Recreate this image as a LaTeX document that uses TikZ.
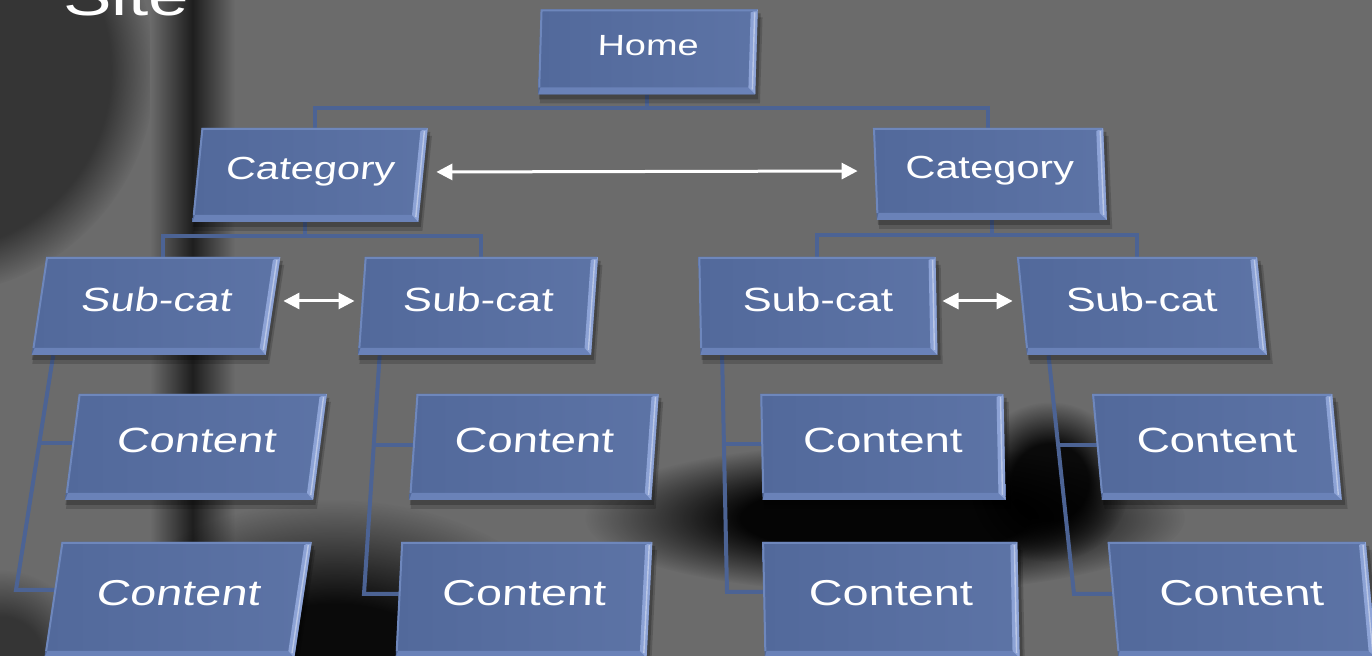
\documentclass[tikz,border=0pt]{standalone}
\usepackage{fontspec}
\usepackage{graphicx}
\setmainfont{Liberation Sans}
\usetikzlibrary{calc,fadings,arrows.meta}

\definecolor{bggray}{HTML}{6B6B6B}
\definecolor{poledark}{HTML}{1E1E1E}
\definecolor{boxface}{HTML}{52699B}
\definecolor{boxside}{HTML}{8DA3D6}
\definecolor{boxfoot}{HTML}{6A82B8}
\definecolor{boxrim}{HTML}{6E87BC}
\definecolor{linkblue}{HTML}{4C6394}

\pgfdeclarelayer{back}
\pgfdeclarelayer{links}
\pgfsetlayers{back,links,main}

% opaque core, long soft rim
\pgfdeclareradialshading{softedge}{\pgfpointorigin}{color(0bp)=(white); color(12bp)=(white); color(25bp)=(black); color(50bp)=(black)}
\pgfdeclarefading{soft blob}{\pgfuseshading{softedge}}

\tikzset{
  boxanchor/.style={inner sep=0pt, transform shape},
  boxlabel/.style={text=white, inner sep=0pt, text depth=0pt, transform shape},
  link/.style={draw=linkblue, line width=2pt},
  twoway/.style={white, line width=1.5pt, {Triangle[length=8pt,width=8pt]}-{Triangle[length=8pt,width=8pt]}},
  blob/.style={black, path fading=circle with fuzzy edge 20 percent},
  softblob/.style={black, path fading=soft blob},
}

% bevelled box: name, x, y, width, height, slant, font size, label
\newcommand\sitebox[8]{%
  \pgfmathsetmacro\boxhw{#4/2}%
  \pgfmathsetmacro\boxhh{#5/2}%
  \begin{scope}[shift={(#2,#3)}, xslant=#6]
    % soft shadow underneath
    \fill[black, opacity=.16] (-\boxhw+2,-\boxhh+8) rectangle (\boxhw+5,\boxhh+9);
    \fill[black, opacity=.22] (-\boxhw+1,-\boxhh+4) rectangle (\boxhw+3,\boxhh+5);
    % face and bevels
    \shade[left color=boxface, right color=boxface!82!boxside] (-\boxhw,-\boxhh) rectangle (\boxhw,\boxhh);
    \fill[boxfoot] (-\boxhw,\boxhh) -- (\boxhw,\boxhh) -- (\boxhw-7,\boxhh-7) -- (-\boxhw+2,\boxhh-7) -- cycle;
    \fill[boxside] (\boxhw,-\boxhh) -- (\boxhw,\boxhh) -- (\boxhw-7,\boxhh-7) -- (\boxhw-7,-\boxhh+3) -- cycle;
    \draw[boxrim, line width=1pt] (-\boxhw+.8,\boxhh-7) -- (-\boxhw+.8,-\boxhh+.8) -- (\boxhw-1,-\boxhh+.8);
    \draw[white, opacity=.4, line width=.7pt] (\boxhw-3,-\boxhh+3) -- (\boxhw-3,\boxhh-5);
    \node[boxanchor, minimum width=#4*.5pt, minimum height=#5*.5pt] (#1) at (0,0) {};
    \node[boxlabel, font=\fontsize{#7}{#7}\selectfont, text height=#7pt*.72] at (0,-7) {\scalebox{1.3}[1]{#8}};
  \end{scope}}

\begin{document}
\begin{tikzpicture}[x=0.5pt, y=-0.5pt]
  \useasboundingbox (0,0) rectangle (1372,656);
  \clip (0,0) rectangle (1372,656);

  % backdrop
  \begin{pgfonlayer}{back}
    \fill[bggray] (0,0) rectangle (1372,656);
    \fill[blob, opacity=.5] (-70,70) circle (225);
    \shade[left color=bggray, right color=bggray, middle color=poledark] (150,-5) rectangle (235,548);
    \fill[softblob, opacity=.95] (885,518) ellipse [x radius=300, y radius=75];
    \fill[softblob, opacity=.9] (1050,482) ellipse [x radius=80, y radius=80];
    \fill[softblob, opacity=.9] (335,700) ellipse [x radius=270, y radius=200];
    \fill[softblob, opacity=.5] (0,660) circle (90);
  \end{pgfonlayer}

  \node[anchor=base west, text=white, inner sep=0pt, font=\fontsize{28}{28}\selectfont] (title) at (63,16) {\scalebox{1.3}[1]{Site}};

  \sitebox{home}{648}{52}{217}{85}{0.03}{14.6}{Home}
  \sitebox{catl}{310}{175}{226}{94}{0.10}{16}{Category}
  \sitebox{catr}{990}{174}{230}{92}{-0.04}{16}{Category}

  \sitebox{sub1}{156}{306}{234}{98}{0.15}{16.8}{Sub-cat}
  \sitebox{sub2}{478}{306}{233}{98}{0.07}{16.8}{Sub-cat}
  \sitebox{sub3}{818}{306}{237}{98}{-0.02}{16.8}{Sub-cat}
  \sitebox{sub4}{1142}{306}{240}{98}{-0.10}{16.8}{Sub-cat}

  \sitebox{con1}{196}{447}{248}{106}{0.13}{17.5}{Content}
  \sitebox{con2}{534}{447}{242}{106}{0.07}{17.5}{Content}
  \sitebox{con3}{883}{447}{243}{106}{-0.02}{17.5}{Content}
  \sitebox{con4}{1217}{447}{240}{106}{-0.09}{17.5}{Content}

  \sitebox{con5}{178}{600}{250}{116}{0.15}{18}{Content}
  \sitebox{con6}{524}{600}{251}{116}{0.05}{18}{Content}
  \sitebox{con7}{891}{600}{255}{116}{-0.02}{18}{Content}
  \sitebox{con8}{1242}{600}{258}{116}{-0.09}{18}{Content}

  \begin{pgfonlayer}{links}
    % tree levels
    \draw[link] (home.south) -- ++(0,13) -| (catl.north);
    \draw[link] (home.south) -- ++(0,13) -| (catr.north);
    \draw[link] (catl.south) -- ++(0,14) -| (sub1.north);
    \draw[link] (catl.south) -- ++(0,14) -| (sub2.north);
    \draw[link] (catr.south) -- ++(0,15) -| (sub3.north);
    \draw[link] (catr.south) -- ++(0,15) -| (sub4.north);
    % rails from each sub-cat to its two content boxes
    \coordinate (rail1) at (16,590);
    \coordinate (rail2) at (364,594);
    \coordinate (rail3) at (727,592);
    \coordinate (rail4) at (1074,594);
    \draw[link] ($(sub1.south west)+(22,0)$) coordinate (top1) -- (rail1) -- (rail1 -| con5.center);
    \draw[link] ($(sub2.south west)+(22,0)$) coordinate (top2) -- (rail2) -- (rail2 -| con6.center);
    \draw[link] ($(sub3.south west)+(22,0)$) coordinate (top3) -- (rail3) -- (rail3 -| con7.center);
    \draw[link] ($(sub4.south west)+(22,0)$) coordinate (top4) -- (rail4) -- (rail4 -| con8.center);
    \draw[link] ($(top1)!.375!(rail1)$) coordinate (mid1) -- (mid1 -| con1.center);
    \draw[link] ($(top2)!.375!(rail2)$) coordinate (mid2) -- (mid2 -| con2.center);
    \draw[link] ($(top3)!.375!(rail3)$) coordinate (mid3) -- (mid3 -| con3.center);
    \draw[link] ($(top4)!.375!(rail4)$) coordinate (mid4) -- (mid4 -| con4.center);
  \end{pgfonlayer}

  % sibling links
  \draw[twoway, shorten <=6.5pt, shorten >=8.5pt] ([yshift=1.5pt]catl.east) -- ([yshift=1.5pt]catr.west);
  \draw[twoway, shorten <=5pt, shorten >=3.3pt] ([yshift=2.5pt]sub1.east) -- ([yshift=2.5pt]sub2.west);
  \draw[twoway, shorten <=2.8pt, shorten >=4.5pt] ([yshift=2.5pt]sub3.east) -- ([yshift=2.5pt]sub4.west);
\end{tikzpicture}
\end{document}
